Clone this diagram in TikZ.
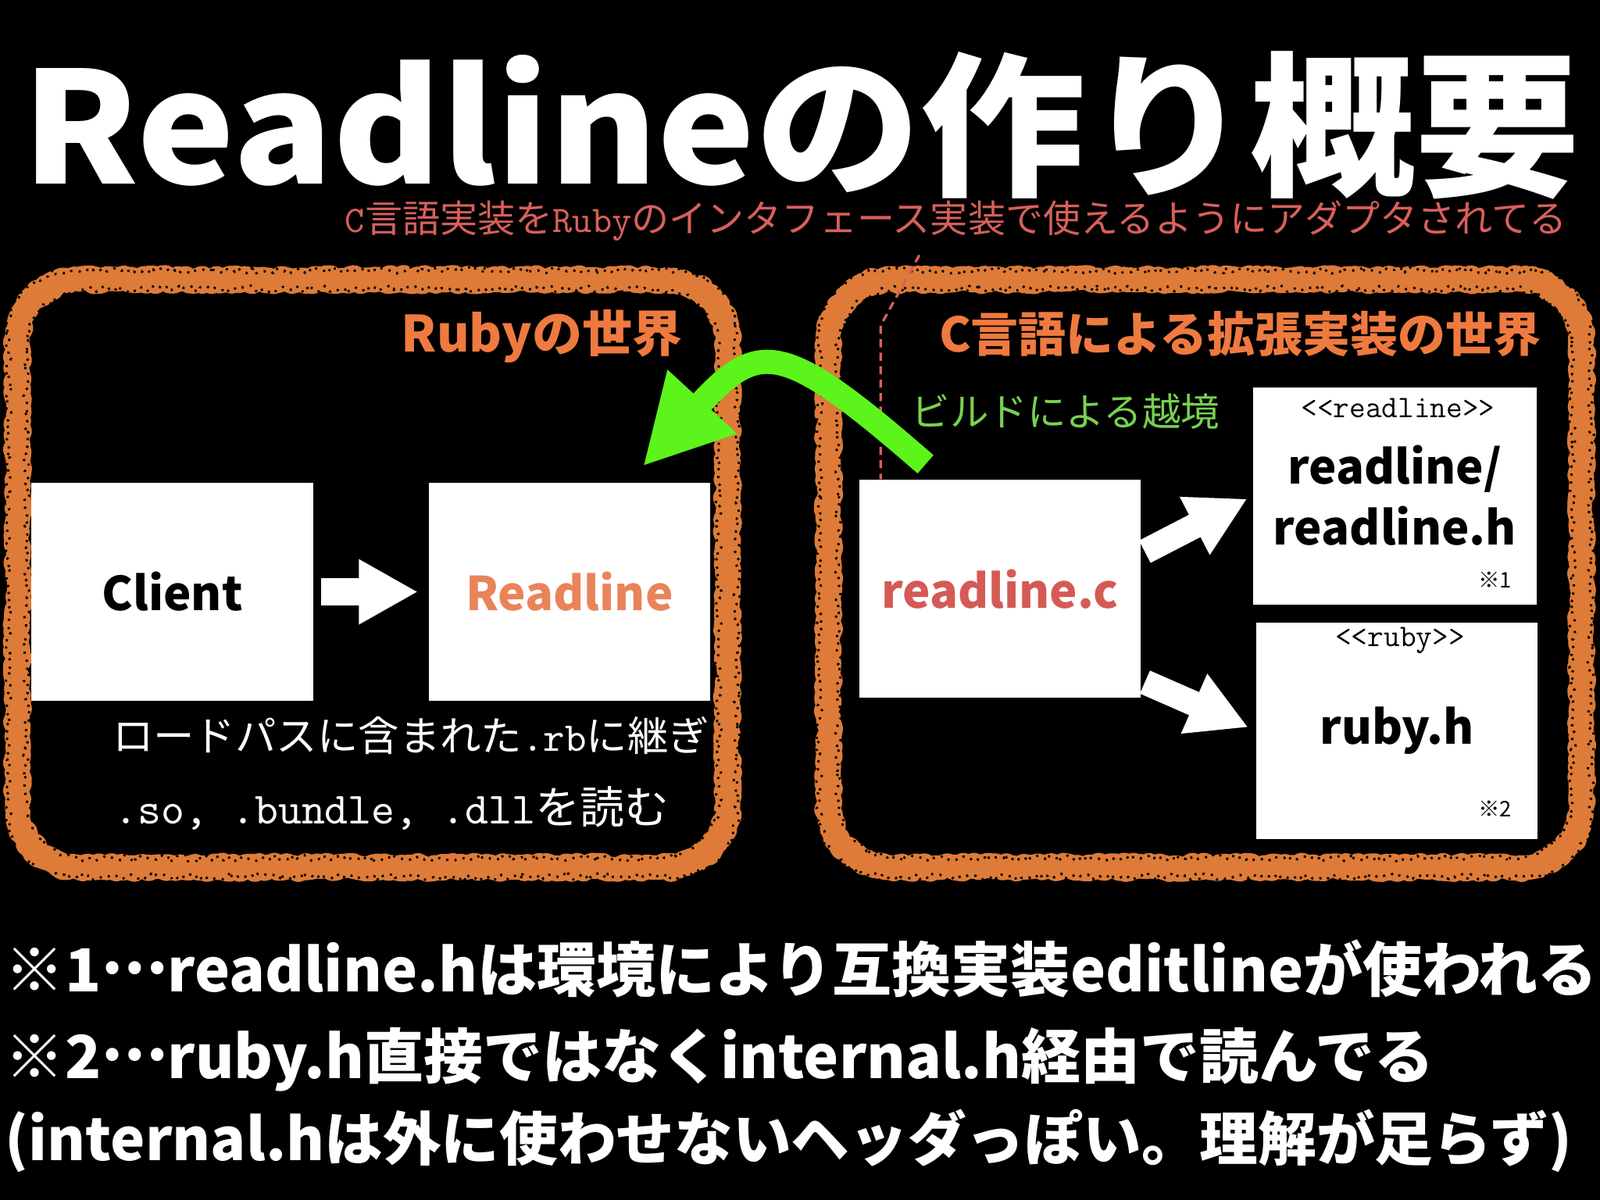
\documentclass[tikz,border=0pt]{standalone}
\usepackage{graphicx}
\usepackage{xcolor}
\usepackage{fontspec}
\setmainfont{Noto Sans CJK JP}
\usetikzlibrary{arrows.meta,positioning,calc,decorations.pathmorphing}

\definecolor{worldorange}{HTML}{DE7B38}
\definecolor{headorange}{HTML}{EF7A3F}
\definecolor{liborange}{HTML}{E9845A}
\definecolor{cred}{HTML}{D45A55}
\definecolor{subred}{HTML}{D8605B}
\definecolor{buildgreen}{HTML}{5CF41A}
\definecolor{textgreen}{HTML}{78D150}

\newdimen\px \px=0.02cm

% rounded frame: x1,y1,x2,y2 (y grows downwards)
\newcommand{\framepath}[4]{(#1,#2+60) arc[start angle=180,end angle=270,radius=60]
  -- (#3-60,#2) arc[start angle=270,end angle=360,radius=60]
  -- (#3,#4-60) arc[start angle=0,end angle=90,radius=60]
  -- (#1+60,#4) arc[start angle=90,end angle=180,radius=60] -- cycle}

\tikzset{
  world/.style={draw=worldorange, line width=24\px, line join=round,
    decorate, decoration={random steps, segment length=2pt, amplitude=1.3pt}},
  speckle/.style={black, line width=1.3pt, line join=round, dash pattern=on 1.2pt off 3.5pt,
    decorate, decoration={random steps, segment length=2pt, amplitude=1.8pt}},
  card/.style={fill=white, inner sep=0pt, minimum width=276\px, minimum height=214\px,
    font=\bfseries\fontsize{26}{30}\selectfont},
  blockarrow/.style={white, line width=15pt, -{Triangle[length=33pt, width=34pt]}},
  build/.style={buildgreen, line width=13.5pt, -{Triangle[length=49pt, width=49pt]}},
  adapt/.style={subred, line width=1.4pt, dash pattern=on 4.5pt off 3pt},
  stereo/.style={inner sep=0pt, font=\ttfamily\fontsize{17.5}{19}\selectfont},
  note/.style={text=white, inner sep=0pt, font=\bfseries},
}

\begin{document}
\begin{tikzpicture}[x=0.02cm, y=-0.02cm]
    % Background
    \fill[black] (0,0) rectangle (1568,1176);
    \useasboundingbox (0,0) rectangle (1568,1176);

    % Title
    \node[anchor=base, text=white, inner sep=0pt, font=\bfseries] (title) at (785,180)
        {\resizebox{1526\px}{130\px}{Readlineの作り概要}};
    \node[anchor=base west, text=subred, inner sep=0pt] (subtitle) at (338,228)
        {\resizebox{1197\px}{!}{{\ttfamily C}言語実装を{\ttfamily Ruby}のインタフェース実装で使えるようにアダプタされてる}};

    % Worlds
    \draw[world] \framepath{17}{274}{713}{850};
    \draw[speckle] \framepath{8}{265}{722}{859};
    \draw[speckle] \framepath{26}{283}{704}{841};
    \draw[world] \framepath{812}{274}{1550}{850};
    \draw[speckle] \framepath{803}{265}{1559}{859};
    \draw[speckle] \framepath{821}{283}{1541}{841};
    \node[anchor=base west, text=headorange, inner sep=0pt, font=\bfseries] (rubyworld) at (393,345)
        {\resizebox{275\px}{!}{Rubyの世界}};
    \node[anchor=base west, text=headorange, inner sep=0pt, font=\bfseries] (cworld) at (920,345)
        {\resizebox{590\px}{!}{C言語による拡張実装の世界}};

    % Ruby side
    \node[card] (client) at (169,580) {Client};
    \node[card, text=liborange] (readline) at (558,580) {Readline};
    \draw[blockarrow, shorten <=7\px, shorten >=10\px] (client) -- (readline);
    \node[anchor=base west, text=white, inner sep=0pt] (loadpath) at (110,736)
        {\resizebox{585\px}{!}{ロードパスに含まれた{\ttfamily .rb}に継ぎ}};
    \node[anchor=base west, text=white, inner sep=0pt] (dllload) at (112,807)
        {\resizebox{543\px}{!}{{\ttfamily .so, .bundle, .dll}を読む}};

    % C side
    \node[card, text=cred] (rc) at (980,577) {readline.c};
    \node[card, minimum width=278\px, minimum height=213\px] (rh) at (1367,486) {};
    \node[stereo] (rhstereo) at (1370,400) {<{}<readline>{}>};
    \node[inner sep=0pt, font=\bfseries\fontsize{26}{34}\selectfont] (rhname) at (1367,492)
        {\begin{tabular}{@{}c@{}}readline/\\readline.h\end{tabular}};
    \node[inner sep=0pt, font=\fontsize{12}{14}\selectfont] (rhmark) at (1465,568) {※1};
    \node[card, minimum height=212\px] (rb) at (1369,716) {ruby.h};
    \node[stereo] (rbstereo) at (1372,628) {<{}<ruby>{}>};
    \node[inner sep=0pt, font=\fontsize{12}{14}\selectfont] (rbmark) at (1465,793) {※2};
    \draw[blockarrow, line width=14pt, shorten <=4\px, shorten >=6\px] (rc.14) -- (rh.west);
    \draw[blockarrow, line width=14pt, shorten <=4\px, shorten >=8\px] (rc.-33) -- (rb.west);

    % Adapter hint
    \coordinate (dstart) at (901,250);
    \coordinate (dbend) at (863,319);
    \draw[adapt] (dstart) -- (dbend) -- (dbend |- rc.north);

    % Build crossing
    \coordinate (buildtail) at (907,455);
    \coordinate (buildtip) at (630,457);
    \draw[build] (buildtail) .. controls (767,333) and (744,333) .. (buildtip);
    \node[anchor=base west, text=textgreen, inner sep=0pt] (buildlabel) at (893,418)
        {\resizebox{302\px}{!}{ビルドによる越境}};

    % Notes
    \node[note, anchor=base west] (noteA) at (5,972)
        {\resizebox{1560\px}{!}{※1\raisebox{.3em}{…}readline.hは環境により互換実装editlineが使われる}};
    \node[note, anchor=base west] (noteB) at (5,1057)
        {\resizebox{1400\px}{!}{※2\raisebox{.3em}{…}ruby.h直接ではなくinternal.h経由で読んでる}};
    \node[note, anchor=base west] (noteC) at (5,1137)
        {\resizebox{1535\px}{!}{(internal.hは外に使わせないヘッダっぽい。理解が足らず)}};
\end{tikzpicture}
\end{document}
